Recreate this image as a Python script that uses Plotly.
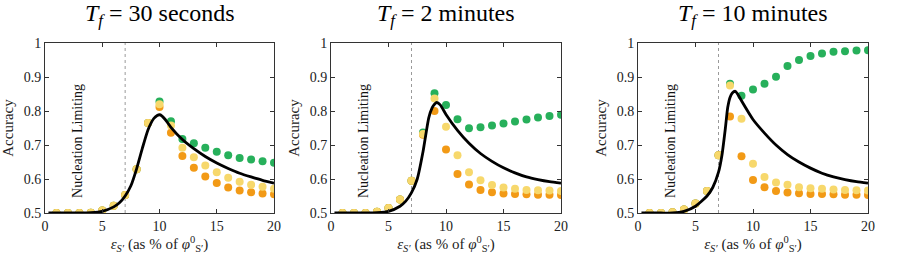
import plotly.graph_objects as go

FONT = "Liberation Serif, DejaVu Serif, serif"

titles = ["<i>T<sub>f</sub></i> = 30 seconds", "<i>T<sub>f</sub></i> = 2 minutes", "<i>T<sub>f</sub></i> = 10 minutes"]
eps = list(range(1, 21))

# Panel 1: T_f = 30 s
yellow_1 = [0.5, 0.5, 0.5, 0.501, 0.507, 0.521, 0.553, 0.629, 0.765, 0.82, 0.757, 0.692, 0.664, 0.64, 0.62, 0.604, 0.592, 0.583, 0.577, 0.571]
orange_1 = [0.5, 0.5, 0.5, 0.501, 0.507, 0.521, 0.553, 0.629, 0.765, 0.812, 0.736, 0.668, 0.633, 0.607, 0.588, 0.575, 0.566, 0.561, 0.557, 0.555]
green_1 = [0.5, 0.5, 0.5, 0.501, 0.507, 0.521, 0.553, 0.629, 0.765, 0.828, 0.77, 0.718, 0.705, 0.692, 0.68, 0.67, 0.662, 0.657, 0.652, 0.648]
curve_x_1 = [0.3, 1, 2, 3, 4, 5, 6, 6.5, 7, 7.5, 8, 8.5, 9, 9.5, 9.8, 10, 10.2, 10.5, 11, 12, 13, 14, 15, 16, 17, 18, 19, 20]
curve_y_1 = [0.5, 0.5, 0.5, 0.5, 0.501, 0.505, 0.518, 0.53, 0.55, 0.58, 0.63, 0.69, 0.745, 0.778, 0.787, 0.789, 0.786, 0.775, 0.752, 0.716, 0.689, 0.666, 0.647, 0.631, 0.617, 0.606, 0.596, 0.588]

# Panel 2: T_f = 2 min
yellow_2 = [0.5, 0.5, 0.5, 0.504, 0.515, 0.54, 0.595, 0.732, 0.837, 0.754, 0.67, 0.62, 0.596, 0.582, 0.575, 0.571, 0.568, 0.567, 0.566, 0.565]
orange_2 = [0.5, 0.5, 0.5, 0.504, 0.515, 0.54, 0.595, 0.73, 0.80, 0.687, 0.615, 0.584, 0.568, 0.561, 0.557, 0.556, 0.555, 0.554, 0.554, 0.553]
green_2 = [0.5, 0.5, 0.5, 0.504, 0.515, 0.54, 0.595, 0.737, 0.852, 0.818, 0.776, 0.749, 0.752, 0.757, 0.763, 0.769, 0.775, 0.781, 0.785, 0.789]
curve_x_2 = [0.3, 1, 2, 3, 4, 5, 6, 6.5, 7, 7.5, 8, 8.5, 8.8, 9, 9.2, 9.5, 10, 11, 12, 13, 14, 15, 16, 17, 18, 19, 20]
curve_y_2 = [0.5, 0.5, 0.5, 0.5, 0.501, 0.505, 0.52, 0.535, 0.56, 0.6, 0.68, 0.78, 0.81, 0.82, 0.825, 0.818, 0.79, 0.743, 0.705, 0.675, 0.652, 0.633, 0.618, 0.606, 0.598, 0.592, 0.588]

# Panel 3: T_f = 10 min
yellow_3 = [0.5, 0.5, 0.502, 0.51, 0.528, 0.565, 0.67, 0.875, 0.777, 0.645, 0.606, 0.59, 0.583, 0.576, 0.573, 0.571, 0.569, 0.568, 0.567, 0.566]
orange_3 = [0.5, 0.5, 0.502, 0.51, 0.528, 0.565, 0.67, 0.784, 0.667, 0.597, 0.576, 0.565, 0.56, 0.558, 0.556, 0.556, 0.555, 0.554, 0.554, 0.553]
green_3 = [0.5, 0.5, 0.502, 0.51, 0.528, 0.565, 0.67, 0.88, 0.845, 0.863, 0.88, 0.901, 0.932, 0.95, 0.962, 0.969, 0.974, 0.976, 0.978, 0.979]
curve_x_3 = [0.3, 1, 2, 3, 4, 5, 6, 6.5, 7, 7.3, 7.6, 7.8, 8, 8.2, 8.46, 8.7, 9, 10, 11, 12, 13, 14, 15, 16, 17, 18, 19, 20]
curve_y_3 = [0.5, 0.5, 0.5, 0.5, 0.505, 0.52, 0.55, 0.575, 0.62, 0.67, 0.75, 0.81, 0.84, 0.853, 0.858, 0.848, 0.83, 0.775, 0.735, 0.70, 0.672, 0.65, 0.632, 0.617, 0.606, 0.598, 0.592, 0.588]

x_ticks = [0, 5, 10, 15, 20]
y_ticks = [0.5, 0.6, 0.7, 0.8, 0.9, 1.0]
y_tick_labels = ["0.5", "0.6", "0.7", "0.8", "0.9", "1"]
nucleation_x = 7

GREEN = "#27b05b"
ORANGE = "#f29a16"
YELLOW = "#f7d86c"

panels = [
    (yellow_1, orange_1, green_1, curve_x_1, curve_y_1),
    (yellow_2, orange_2, green_2, curve_x_2, curve_y_2),
    (yellow_3, orange_3, green_3, curve_x_3, curve_y_3),
]

W, H = 897, 255
x_doms = [(45 / W, 274 / W), (331 / W, 561 / W), (638 / W, 868 / W)]
y_dom = (1 - 213 / H, 1 - 43 / H)

fig = go.Figure()
for i, (yel, ora, gre, cx, cy) in enumerate(panels):
    n = "" if i == 0 else str(i + 1)
    xa, ya = "x" + n, "y" + n
    for vals, col in [(gre, GREEN), (ora, ORANGE), (yel, YELLOW)]:
        fig.add_trace(go.Scatter(x=eps, y=vals, mode="markers", xaxis=xa, yaxis=ya,
                                 marker=dict(size=8, color=col, line=dict(width=0)),
                                 showlegend=False, cliponaxis=True))
    fig.add_trace(go.Scatter(x=cx, y=cy, mode="lines", xaxis=xa, yaxis=ya,
                             line=dict(color="black", width=2.8, shape="spline", smoothing=0.6),
                             showlegend=False))
    fig.add_shape(type="line", x0=nucleation_x, x1=nucleation_x, y0=0.5, y1=1.0,
                  xref=xa, yref=ya, line=dict(color="#9a9a9a", width=1, dash="dot"), layer="below")
    fig.add_annotation(x=2.88, y=0.712, xref=xa, yref=ya, text="Nucleation Limiting",
                       textangle=-90, showarrow=False,
                       font=dict(family=FONT, size=14, color="#111111"))
    fig.add_annotation(x=(x_doms[i][0] + x_doms[i][1]) / 2, y=1 - 15 / H, xref="paper", yref="paper",
                       text=titles[i], showarrow=False, xanchor="center", yanchor="middle",
                       font=dict(family=FONT, size=24, color="black"))
    axis_common = dict(showline=True, linecolor="#333333", linewidth=1, mirror="ticks",
                       ticks="inside", ticklen=4, tickcolor="#333333", showgrid=False, zeroline=False,
                       automargin=False,
                       tickfont=dict(family=FONT, size=14, color="#222222"))
    fig.layout["xaxis" + n] = dict(domain=list(x_doms[i]), range=[0, 20], tickvals=x_ticks,
                                   anchor=ya,
                                   title=dict(text="<i>ε<sub>S′</sub></i> (as % of <i>φ</i><sup>0</sup><sub>S′</sub>)",
                                              font=dict(family=FONT, size=15, color="#222222"), standoff=2),
                                   **axis_common)
    fig.layout["yaxis" + n] = dict(domain=list(y_dom), range=[0.5, 1.0], tickvals=y_ticks,
                                   ticktext=y_tick_labels, anchor=xa,
                                   title=dict(text="Accuracy", font=dict(family=FONT, size=15, color="#222222"),
                                              standoff=6),
                                   **axis_common)

fig.update_layout(width=W, height=H, margin=dict(l=0, r=0, t=0, b=0),
                  paper_bgcolor="white", plot_bgcolor="white")
fig.write_html("out.html", config={"displayModeBar": False},
               post_script="document.body.style.margin='0';document.body.style.overflow='hidden';")
